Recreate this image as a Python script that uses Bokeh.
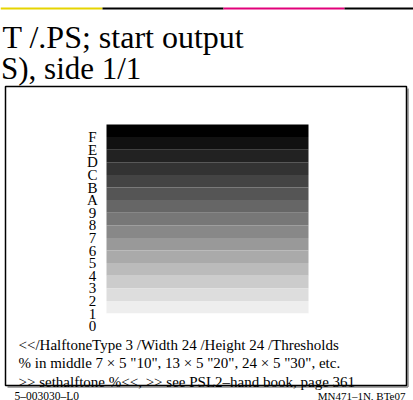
from bokeh.plotting import figure
from bokeh.models import Range1d, ColumnDataSource
from bokeh.core.properties import value
from bokeh.embed import file_html
from bokeh.resources import INLINE

# ---- data ----
levels = ["F", "E", "D", "C", "B", "A", "9", "8", "7", "6", "5", "4", "3", "2", "1", "0"]
grays = ["#000000", "#111111", "#222222", "#333333", "#444444", "#555555",
         "#666666", "#777777", "#888888", "#999999", "#aaaaaa", "#bbbbbb",
         "#cccccc", "#dddddd", "#eeeeee", "#ffffff"]
title_lines = ["T /.PS; start output", "S), side 1/1"]
body_lines = ['<</HalftoneType 3 /Width 24 /Height 24 /Thresholds',
              '% in middle 7 \u00d7 5 "10", 13 \u00d7 5 "20", 24 \u00d7 5 "30", etc.',
              '>> sethalftone  %<<, >> see PSL2\u2013hand book, page 361']
footer_left = "5\u2013003030\u2013L0"
footer_right = "MN471\u20131N, BTe07"
strip_colors = ["#e6d400", "#000000", "#e2007a", "#000000"]

FONT = value("Liberation Serif")
W, H = 413, 400

p = figure(width=W, height=H, output_backend="svg", toolbar_location=None,
           x_range=Range1d(0, W), y_range=Range1d(H, 0), min_border=0)
p.axis.visible = False
p.grid.visible = False
p.outline_line_color = None
p.background_fill_color = "white"

# top colour strip
sx = [0, 102, 223, 344, 413]
for i, c in enumerate(strip_colors):
    p.segment(x0=[sx[i]], y0=[8], x1=[sx[i + 1]], y1=[8], line_color=c, line_width=1.8)

# title
p.text(x=[2], y=[36.5], text=[title_lines[0]], text_font=FONT, text_font_size="32px",
       text_align="left", text_baseline="alphabetic", text_color="black")
p.text(x=[0.5], y=[68], text=[title_lines[1]], text_font=FONT, text_font_size="31px",
       text_align="left", text_baseline="alphabetic", text_color="black")

# frame box with shadow
bl, bt, br, bb = 5, 86, 406, 385
p.segment(x0=[br + 1.5, bl + 2], y0=[bt + 2, bb + 1.5], x1=[br + 1.5, br + 1.5], y1=[bb + 1.5, bb + 1.5],
          line_color="#8a8a8a", line_width=1.5)
p.quad(left=[bl], right=[br], top=[bt], bottom=[bb], fill_color=None,
       line_color="black", line_width=1.5)

# gray steps
top0, step = 124, 12.6
tops = [top0 + i * step for i in range(len(levels))]
src = ColumnDataSource(dict(
    top=tops,
    bottom=[t + step for t in tops],
    color=grays,
    label=levels,
    lx=[92] * len(levels),
))
p.quad(left=106, right=308, top="top", bottom="bottom", fill_color="color",
       line_color=None, source=src)
p.text(x="lx", y="bottom", text="label", source=src, text_font=FONT,
       text_font_size="15px", text_align="center", text_baseline="alphabetic",
       text_color="black")

# body text
for txt, yb in zip(body_lines, [344, 362.5, 381]):
    p.text(x=[18], y=[yb], text=[txt], text_font=FONT, text_font_size="15px",
           text_align="left", text_baseline="alphabetic", text_color="black")

# footers
p.text(x=[14], y=[395], text=[footer_left], text_font=FONT, text_font_size="11.5px",
       text_align="left", text_baseline="alphabetic", text_color="black")
p.text(x=[405], y=[395], text=[footer_right], text_font=FONT, text_font_size="11px",
       text_align="right", text_baseline="alphabetic", text_color="black")

open("out.html", "w").write(file_html(p, INLINE))
